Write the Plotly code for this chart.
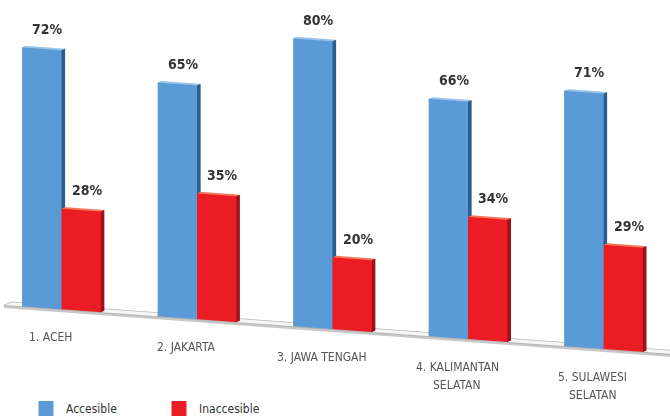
import numpy as np
import plotly.graph_objects as go

# ---- data -------------------------------------------------------------
categories = ["1. ACEH", "2. JAKARTA", "3. JAWA TENGAH",
              "4. KALIMANTAN<br>SELATAN", "5. SULAWESI<br>SELATAN"]
accessible = [72, 65, 80, 66, 71]
inaccessible = [28, 35, 20, 34, 29]
series_names = ["Accesible", "Inaccesible"]

# ---- styling ----------------------------------------------------------
BLUE = dict(front="#5a9bd7", side="#2c5c8c", top="#9cc4ea")
RED = dict(front="#ec1c24", side="#9e1116", top="#f5775a")
FLOOR_COL = dict(front="#c9c9c9", side="#dcdcdc", top="#f6f6f6")
FONT = "DejaVu Sans Condensed, Liberation Sans Narrow, Arial Narrow, sans-serif"

BAR_W = 0.29                 # width of one bar in category units
BAR_Y = (0.015, 0.08)        # bar depth span
FLOOR_X = (-0.42, 4.95)
FLOOR_Y = (0.0, 0.14)
FLOOR_Z = (-0.5, 0.0)
XR, YR, ZR = [-0.45, 4.95], [0.0, 0.2], [-1.0, 100.0]

# physical proportions of the scene box (pixels per data unit)
UX = 146.3
UZ = 3.66
W, H = 670, 420
NORM = H / 2.0               # orthographic view spans +-1 scene unit vertically
LINE_GAP = 18                # px between lines of a category label


def box(x0, x1, y0, y1, z0, z1, col, base):
    """Vertices/triangles/face colours of an axis-aligned box."""
    vx = [x0, x1, x1, x0, x0, x1, x1, x0]
    vy = [y0, y0, y1, y1, y0, y0, y1, y1]
    vz = [z0, z0, z0, z0, z1, z1, z1, z1]
    tris = [(0, 1, 5), (0, 5, 4),      # front
            (3, 2, 6), (3, 6, 7),      # back
            (0, 3, 7), (0, 7, 4),      # left
            (1, 2, 6), (1, 6, 5),      # right
            (0, 1, 2), (0, 2, 3),      # bottom
            (4, 5, 6), (4, 6, 7)]      # top
    kind = ["front"] * 2 + ["side"] * 6 + ["side"] * 2 + ["top"] * 2
    i = [t[0] + base for t in tris]
    j = [t[1] + base for t in tris]
    k = [t[2] + base for t in tris]
    fc = [col[c] for c in kind]
    return vx, vy, vz, i, j, k, fc


FLAT = dict(ambient=1.0, diffuse=0.0, specular=0.0, roughness=1.0, fresnel=0.0)


def bars_mesh(values, offset, col, name):
    X, Y, Z, I, J, K, FC = [], [], [], [], [], [], []
    for g, v in enumerate(values):
        x0 = g + offset
        vx, vy, vz, i, j, k, fc = box(x0, x0 + BAR_W, BAR_Y[0], BAR_Y[1], 0, v, col, len(X))
        X += vx; Y += vy; Z += vz; I += i; J += j; K += k; FC += fc
    return go.Mesh3d(x=X, y=Y, z=Z, i=I, j=J, k=K, facecolor=FC, flatshading=True,
                     lighting=FLAT, hoverinfo="skip", showlegend=False, name=name)


fig = go.Figure()

# floor slab
fx, fy, fz, fi, fj, fk, ffc = box(*FLOOR_X, *FLOOR_Y, *FLOOR_Z, FLOOR_COL, 0)
fig.add_trace(go.Mesh3d(x=fx, y=fy, z=fz, i=fi, j=fj, k=fk, facecolor=ffc,
                        flatshading=True, lighting=FLAT,
                        hoverinfo="skip", showlegend=False))
# floor outline
ox = [FLOOR_X[0], FLOOR_X[1], None, FLOOR_X[0], FLOOR_X[1], None,
      FLOOR_X[0], FLOOR_X[0], FLOOR_X[0]]
oy = [FLOOR_Y[0], FLOOR_Y[0], None, FLOOR_Y[1], FLOOR_Y[1], None,
      FLOOR_Y[0], FLOOR_Y[1], FLOOR_Y[1]]
oz = [0.05, 0.05, None, 0.05, 0.05, None, 0.05, 0.05, 0.05]
fig.add_trace(go.Scatter3d(x=ox, y=oy, z=oz, mode="lines",
                           line=dict(color="#b4b4b4", width=2),
                           hoverinfo="skip", showlegend=False))
fig.add_trace(go.Scatter3d(x=list(FLOOR_X), y=[FLOOR_Y[0]] * 2, z=[FLOOR_Z[0]] * 2,
                           mode="lines", line=dict(color="#c4c4c4", width=2),
                           hoverinfo="skip", showlegend=False))

# bars
fig.add_trace(bars_mesh(accessible, -BAR_W, BLUE, series_names[0]))
fig.add_trace(bars_mesh(inaccessible, 0.0, RED, series_names[1]))

# legend entries
for name, col in zip(series_names, [BLUE["front"], RED["front"]]):
    fig.add_trace(go.Scatter3d(x=[None], y=[None], z=[None], mode="markers", name=name,
                               marker=dict(symbol="square", size=15, color=col)))

# ---- annotations (value labels and category names) ----------------------
ann = []
for g, (a, b) in enumerate(zip(accessible, inaccessible)):
    for v, off in ((a, -BAR_W), (b, 0.0)):
        ann.append(dict(x=g + off + BAR_W / 2, y=BAR_Y[0], z=v, text=f"{v}%",
                        showarrow=False, xanchor="center", yanchor="middle",
                        xshift=6, yshift=20,
                        font=dict(family=FONT, size=14, color="#333333", weight="bold")))
for g, c in enumerate(categories):
    for n, line in enumerate(c.split("<br>")):
        ann.append(dict(x=g, y=FLOOR_Y[0], z=0, text=line, showarrow=False,
                        xanchor="center", yanchor="middle", xshift=-10,
                        yshift=-27 - n * LINE_GAP,
                        font=dict(family=FONT, size=12, color="#555555")))

# ---- camera (orthographic) ----------------------------------------------
e = np.array([0.37, -0.91, 0.18])
e /= np.linalg.norm(e)
right = np.array([-e[1], e[0], 0.0]) / np.hypot(e[0], e[1])
sup = np.cross(right, -e)

mid = np.array([sum(XR) / 2, sum(YR) / 2, sum(ZR) / 2])
scale = np.array([UX, UX, UZ]) / NORM
aspect = np.array([XR[1] - XR[0], YR[1] - YR[0], ZR[1] - ZR[0]]) * scale


def to_norm(p):
    return (np.asarray(p, float) - mid) * scale


anchor = to_norm([0.0, BAR_Y[0], 0.0])          # group 1, front bottom
anchor_px = np.array([61.5, 309.5])
d = anchor_px - np.array([W / 2, H / 2])
center = anchor - (d[0] * right - d[1] * sup) / NORM
eye = center + 6.0 * e

axis_off = dict(visible=False, showbackground=False, showgrid=False,
                zeroline=False, showspikes=False)
fig.update_layout(
    width=W, height=H,
    margin=dict(l=0, r=0, t=0, b=0, autoexpand=False),
    paper_bgcolor="white",
    scene=dict(
        domain=dict(x=[0, 1], y=[0, 1]),
        xaxis=dict(range=XR, **axis_off),
        yaxis=dict(range=YR, **axis_off),
        zaxis=dict(range=ZR, **axis_off),
        aspectmode="manual",
        aspectratio=dict(x=aspect[0], y=aspect[1], z=aspect[2]),
        camera=dict(eye=dict(x=eye[0], y=eye[1], z=eye[2]),
                    center=dict(x=center[0], y=center[1], z=center[2]),
                    up=dict(x=0, y=0, z=1),
                    projection=dict(type="orthographic")),
        bgcolor="white",
        annotations=ann,
    ),
    legend=dict(orientation="h", x=26 / W, xanchor="left", y=-3 / H,
                yanchor="bottom", entrywidth=88, entrywidthmode="pixels",
                font=dict(family=FONT, size=12, color="#333333"),
                itemclick=False, itemdoubleclick=False),
)

fig.write_html("out.html", config=dict(displayModeBar=False))
